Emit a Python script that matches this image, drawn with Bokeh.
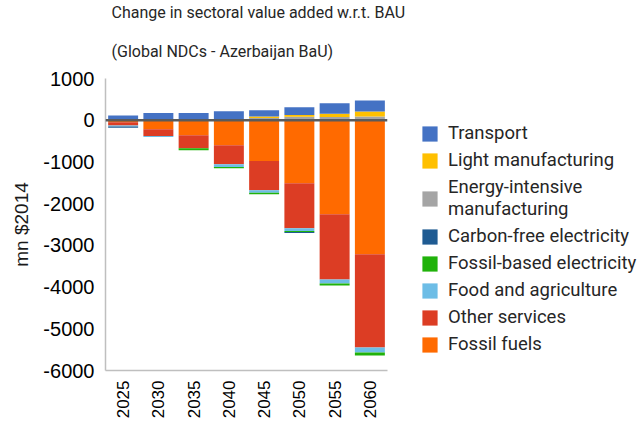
import math
from bokeh.plotting import figure
from bokeh.models import Range1d, FixedTicker, Span, Legend, LegendItem, Title, FactorRange, PrintfTickFormatter
from bokeh.embed import file_html
from bokeh.resources import INLINE

years = ["2025", "2030", "2035", "2040", "2045", "2050", "2055", "2060"]

# positive parts (stacked upward from zero)
energy_intensive_pos = [0, 0, 0, 0, 55, 85, 80, 90]
light_manufacturing = [0, 0, 0, 0, 35, 40, 72, 120]
transport = [115, 170, 175, 215, 150, 185, 255, 265]

# negative parts (stacked downward from zero)
fossil_fuels = [-50, -216, -360, -600, -976, -1512, -2256, -3216]
other_services = [-75, -160, -312, -456, -700, -1080, -1560, -2232]
food_agriculture = [-25, -24, 0, -64, -64, -64, -96, -120]
fossil_electricity = [0, 0, -48, -32, -32, -24, -48, -72]
carbon_free_electricity = [-30, 0, 0, 0, 0, -24, 0, 0]

y_ticks = [1000, 0, -1000, -2000, -3000, -4000, -5000, -6000]

title_lines = ["Change in sectoral value added w.r.t. BAU", "(Global NDCs - Azerbaijan BaU)"]

colors = {
    "Transport": "#4472C4",
    "Light manufacturing": "#FFC000",
    "Energy-intensive\nmanufacturing": "#A5A5A5",
    "Carbon-free electricity": "#1F5B92",
    "Fossil-based electricity": "#20B20A",
    "Food and agriculture": "#6DBDE6",
    "Other services": "#DC3D24",
    "Fossil fuels": "#FF6A00",
}

data = dict(
    years=years,
    ei=energy_intensive_pos, lm=light_manufacturing, tr=transport,
    ff=fossil_fuels, os=other_services, fa=food_agriculture,
    fe=fossil_electricity, cf=carbon_free_electricity,
)

FONT = "Roboto"

p = figure(
    x_range=FactorRange(*years), y_range=Range1d(-6000, 1000),
    frame_width=282, frame_height=292, output_backend="svg", toolbar_location=None,
    min_border_left=105, min_border_right=0, min_border_top=0, min_border_bottom=0,
)

pos = p.vbar_stack(["ei", "lm", "tr"], x="years", width=0.85, source=data,
                   color=[colors["Energy-intensive\nmanufacturing"], colors["Light manufacturing"], colors["Transport"]],
                   line_width=0)
neg = p.vbar_stack(["ff", "os", "fa", "fe", "cf"], x="years", width=0.85, source=data,
                   color=[colors["Fossil fuels"], colors["Other services"], colors["Food and agriculture"],
                          colors["Fossil-based electricity"], colors["Carbon-free electricity"]],
                   line_width=0)

p.add_layout(Span(location=0, dimension="width", line_color="#5A5A5A", line_width=2.5))

items = [
    LegendItem(label="Transport", renderers=[pos[2]]),
    LegendItem(label="Light manufacturing", renderers=[pos[1]]),
    LegendItem(label="Energy-intensive\nmanufacturing", renderers=[pos[0]]),
    LegendItem(label="Carbon-free electricity", renderers=[neg[4]]),
    LegendItem(label="Fossil-based electricity", renderers=[neg[3]]),
    LegendItem(label="Food and agriculture", renderers=[neg[2]]),
    LegendItem(label="Other services", renderers=[neg[1]]),
    LegendItem(label="Fossil fuels", renderers=[neg[0]]),
]
legend = Legend(items=items, location=(33, 15), border_line_color=None,
                background_fill_alpha=0, padding=0, margin=0,
                glyph_width=19, glyph_height=19, label_height=19, spacing=5,
                label_standoff=9, label_text_font=FONT, label_text_font_size="18.5px",
                label_text_color="#262626", label_text_line_height=1.05)
p.add_layout(legend, "right")

p.add_layout(Title(text=title_lines[1], text_font=FONT, text_font_size="16px",
                   text_font_style="normal", text_color="#262626", align="left", offset=6,
                   standoff=35), "above")
p.add_layout(Title(text=title_lines[0], text_font=FONT, text_font_size="16px",
                   text_font_style="normal", text_color="#262626", align="left", offset=6,
                   standoff=1), "above")

p.xgrid.visible = False
p.ygrid.visible = False
p.outline_line_color = None

p.yaxis.ticker = FixedTicker(ticks=y_ticks)
p.yaxis.formatter = PrintfTickFormatter(format="%d")
p.yaxis.axis_label = "mn $2014"
p.yaxis.axis_label_text_font = "Liberation Sans"
p.yaxis.axis_label_text_font_size = "19px"
p.yaxis.axis_label_text_font_style = "normal"
p.yaxis.axis_label_text_color = "#1A1A1A"
p.yaxis.axis_label_standoff = 8
p.yaxis.major_label_text_font = "Liberation Sans"
p.yaxis.major_label_text_font_size = "20px"
p.yaxis.major_label_text_color = "#000000"
p.yaxis.major_label_standoff = 11
p.yaxis.major_tick_out = 0
p.yaxis.major_tick_in = 0
p.yaxis.major_tick_line_color = None
p.yaxis.minor_tick_line_color = None
p.yaxis.axis_line_color = "#BFBFBF"
p.yaxis.axis_line_width = 1.5

p.xaxis.major_label_orientation = math.pi / 2
p.xaxis.major_label_text_font = "Liberation Sans"
p.xaxis.major_label_text_font_size = "17px"
p.xaxis.major_label_text_color = "#000000"
p.xaxis.major_label_standoff = 10
p.xaxis.major_tick_out = 0
p.xaxis.major_tick_in = 0
p.xaxis.major_tick_line_color = None
p.xaxis.minor_tick_line_color = None
p.xaxis.axis_line_color = "#BFBFBF"
p.xaxis.axis_line_width = 1.5

open("out.html", "w").write(file_html(p, INLINE))
